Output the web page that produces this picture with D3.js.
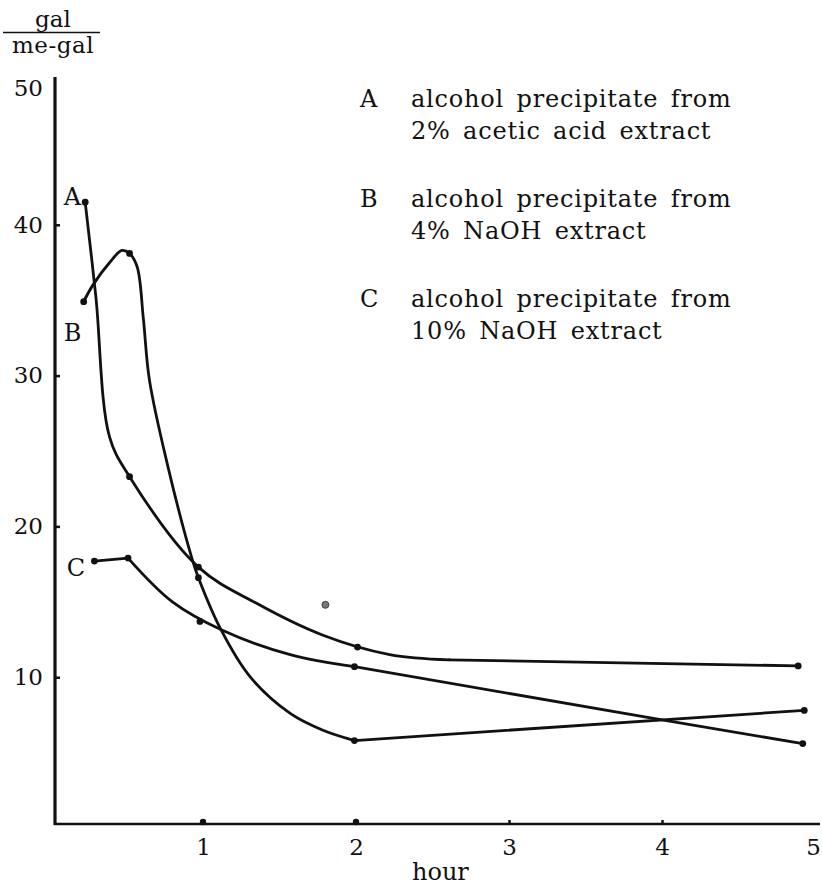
<!DOCTYPE html>
<html>
<head>
<meta charset="utf-8">
<script src="https://cdn.jsdelivr.net/npm/d3@7"></script>
<style>
    html, body { margin: 0; padding: 0; background: #fff; }
    svg { display: block; font-family: 'DejaVu Serif', 'Liberation Serif', serif; }
    .axis text { font-size: 23px; fill: #111; }
    .axis line { stroke: #111; stroke-width: 2.5; }
    .curve { fill: none; stroke: #111; stroke-width: 2.8; stroke-linejoin: round; stroke-linecap: round; }
    .marker { fill: #111; }
</style>
</head>
<body>
<svg id="chart" width="822" height="885"></svg>
<script>
/**
 * Values (hour, gal/me-gal).
 */
const xTicks = [1, 2, 3, 4, 5];
const yTicks = [10, 20, 30, 40, 50];

// Measured points (the dots)
const pointsA = [[0.23, 41.5], [0.52, 23.3], [0.97, 17.3], [2.01, 12.0], [4.89, 10.75]];
const pointsB = [[0.22, 34.9], [0.52, 38.1], [0.97, 16.6], [1.99, 5.8], [4.93, 7.8]];
const pointsC = [[0.29, 17.7], [0.51, 17.9], [0.98, 13.7], [1.99, 10.7], [4.92, 5.6]];

// Hand-drawn curves: a smooth part and a ruled part
const smoothA = [[0.23, 41.5], [0.30, 35.2], [0.39, 25.9], [0.52, 23.3],
    [0.97, 17.3], [1.35, 14.9], [1.78, 12.8], [2.22, 11.5], [2.61, 11.15]];
const straightA = [[2.61, 11.15], [4.89, 10.75]];

const smoothB = [[0.22, 34.9], [0.28, 36.0], [0.39, 37.5], [0.47, 38.3], [0.52, 38.1], [0.57, 37.2],
    [0.61, 33.8], [0.65, 29.7], [0.77, 24.0], [0.93, 17.8], [0.97, 16.6], [1.12, 13.1],
    [1.31, 10.0], [1.57, 7.6], [1.78, 6.5], [1.99, 5.8]];
const straightB = [[1.99, 5.8], [4.93, 7.8]];

const straightC0 = [[0.29, 17.7], [0.51, 17.9]];
const smoothC = [[0.51, 17.9], [0.80, 15.0], [1.13, 13.1], [1.57, 11.5], [1.99, 10.7]];
const straightC = [[1.99, 10.7], [4.01, 7.15], [4.92, 5.6]];

// Stray blot on the scan
const strayMarks = [[1.80, 14.8]];
// Dots sitting on the x axis
const axisDots = [1, 2];

const seriesNames = ['A', 'B', 'C'];
const legendLines = [
    ['alcohol precipitate from', '2% acetic acid extract'],
    ['alcohol precipitate from', '4% NaOH extract'],
    ['alcohol precipitate from', '10% NaOH extract']
];
const curveLabels = [[0.09, 41.3], [0.09, 32.3], [0.11, 16.7]];

/**
 * Visual configs.
 */
const svg = d3.select('#chart');
const x = d3.scaleLinear().domain([0, 5]).range([50, 815]),
    y = d3.scaleLinear().domain([0, 50]).range([828, 74]);
const axisLeftX = 55, axisTopY = 77, axisBottomY = 824, axisRightX = 820;

/**
 * Axes.
 */
const yAxisG = svg.append('g').attr('class', 'axis y')
    .attr('transform', 'translate(' + axisLeftX + ',0)')
    .call(d3.axisLeft(y).tickValues(yTicks).tickFormat(d3.format('d'))
        .tickSizeInner(-5).tickSizeOuter(0).tickPadding(12))
    .attr('font-family', null).attr('font-size', null);
yAxisG.select('.domain').remove();
yAxisG.selectAll('.tick').filter(d => d === 50).select('line').remove();
yAxisG.selectAll('.tick').filter(d => d === 50).select('text').attr('dy', '0.95em');

const xAxisG = svg.append('g').attr('class', 'axis x')
    .attr('transform', 'translate(0,' + axisBottomY + ')')
    .call(d3.axisBottom(x).tickValues(xTicks).tickFormat(d3.format('d'))
        .tickSizeInner(-4).tickSizeOuter(0).tickPadding(15))
    .attr('font-family', null).attr('font-size', null);
xAxisG.select('.domain').remove();
xAxisG.selectAll('.tick').filter(d => d === 5).select('line').remove();
xAxisG.selectAll('.tick').filter(d => d === 5).select('text').attr('dx', -2);

svg.append('line')
    .attr('x1', axisLeftX).attr('x2', axisLeftX)
    .attr('y1', axisTopY).attr('y2', axisBottomY + 1)
    .attr('stroke', '#111').attr('stroke-width', 3.2);
svg.append('line')
    .attr('x1', axisLeftX - 1).attr('x2', axisRightX)
    .attr('y1', axisBottomY).attr('y2', axisBottomY)
    .attr('stroke', '#111').attr('stroke-width', 2.6);

svg.selectAll('.axis-dot').data(axisDots).join('circle')
    .attr('class', 'marker')
    .attr('cx', d => x(d)).attr('cy', axisBottomY - 2).attr('r', 3.2);

// Axis titles
svg.append('text').attr('x', 412).attr('y', 880)
    .attr('font-size', 24).attr('fill', '#111').text('hour');

const unit = svg.append('g').attr('font-size', 23).attr('fill', '#111').attr('text-anchor', 'middle');
unit.append('text').attr('x', 53).attr('y', 27).text('gal');
unit.append('line').attr('x1', 3).attr('x2', 100).attr('y1', 32.5).attr('y2', 32.5)
    .attr('stroke', '#111').attr('stroke-width', 1.5);
unit.append('text').attr('x', 53).attr('y', 53).attr('letter-spacing', 0.5).text('me-gal');

/**
 * Curves and dots.
 */
const smoothLine = d3.line()
    .x(d => x(d[0]))
    .y(d => y(d[1]))
    .curve(d3.curveCatmullRom.alpha(0.5));
const straightLine = d3.line()
    .x(d => x(d[0]))
    .y(d => y(d[1]));

[smoothA, smoothB, smoothC].forEach(t => {
    svg.append('path').attr('class', 'curve').attr('d', smoothLine(t));
});
[straightA, straightB, straightC0, straightC].forEach(t => {
    svg.append('path').attr('class', 'curve').attr('d', straightLine(t));
});

[pointsA, pointsB, pointsC].forEach(p => {
    svg.append('g').selectAll('circle').data(p).join('circle')
        .attr('class', 'marker')
        .attr('cx', d => x(d[0])).attr('cy', d => y(d[1])).attr('r', 3.4);
});

svg.selectAll('.stray').data(strayMarks).join('circle')
    .attr('cx', d => x(d[0])).attr('cy', d => y(d[1])).attr('r', 3.5)
    .attr('fill', '#777').attr('stroke', '#444').attr('stroke-width', 1);

// Letters next to the curves
svg.append('g').selectAll('text').data(curveLabels).join('text')
    .attr('x', d => x(d[0])).attr('y', d => y(d[1]))
    .attr('font-size', 24).attr('fill', '#111')
    .text((d, i) => seriesNames[i]);

/**
 * Legend.
 */
const legend = svg.append('g').attr('font-size', 24).attr('fill', '#111');
const legendTop = [107, 207, 307], lineGap = 31.5;
seriesNames.forEach((name, i) => {
    legend.append('text').attr('x', 360).attr('y', legendTop[i]).text(name);
    legendLines[i].forEach((s, j) => {
        legend.append('text')
            .attr('x', 411).attr('y', legendTop[i] + j * lineGap)
            .attr('letter-spacing', 0.8).attr('word-spacing', 4)
            .text(s);
    });
});
</script>
</body>
</html>
